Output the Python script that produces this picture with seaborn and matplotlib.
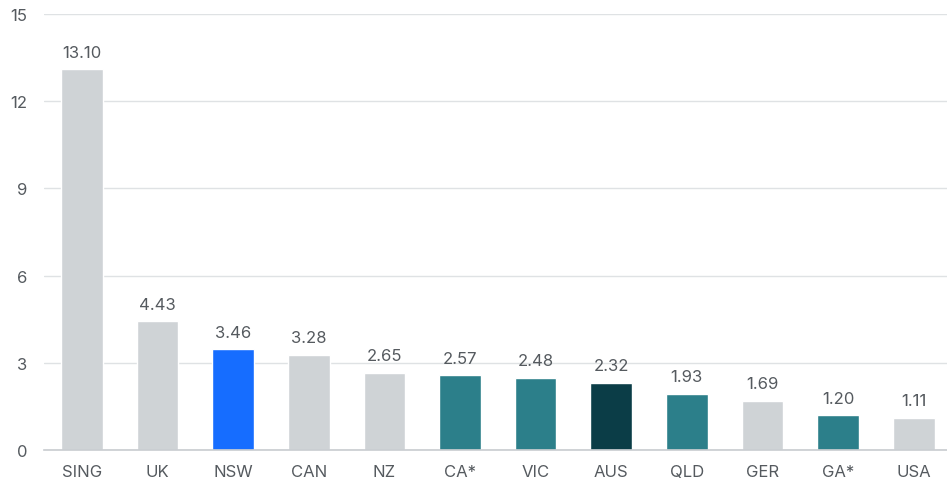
import matplotlib
matplotlib.use("Agg")
import matplotlib.pyplot as plt
import seaborn as sns
import pandas as pd

categories = ["SING", "UK", "NSW", "CAN", "NZ", "CA*", "VIC", "AUS", "QLD", "GER", "GA*", "USA"]
values = [13.10, 4.43, 3.46, 3.28, 2.65, 2.57, 2.48, 2.32, 1.93, 1.69, 1.20, 1.11]
groups = ["other", "other", "nsw", "other", "other", "state", "state", "aus", "state", "other", "state", "other"]
palette = {"other": "#cfd3d6", "nsw": "#166dff", "state": "#2c7f8a", "aus": "#0b3d47"}
yticks = [0, 3, 6, 9, 12, 15]

df = pd.DataFrame({"cat": categories, "val": values, "grp": groups})

sns.set_theme(style="white")
plt.rcParams["font.family"] = ["Inter", "DejaVu Sans"]

fig = plt.figure(figsize=(9.47, 4.85), dpi=100)
ax = fig.add_axes([0.0465, 0.0701, 0.9535, 0.8989])
sns.barplot(data=df, x="cat", y="val", hue="grp", palette=palette, dodge=False,
            width=0.55, legend=False, ax=ax, saturation=1)

for i, v in enumerate(values):
    ax.text(i, v + 0.33, f"{v:.2f}", ha="center", va="bottom", fontsize=12, color="#555a5f")

ax.set_ylim(0, 15)
ax.set_xlim(-0.5, 11.44)
ax.set_yticks(yticks)
ax.set_yticklabels([str(t) for t in yticks])
ax.yaxis.grid(True, color="#dfe2e4", linewidth=1)
ax.set_axisbelow(True)
for s in ["top", "right", "left"]:
    ax.spines[s].set_visible(False)
ax.spines["bottom"].set_color("#c8ccd0")
ax.spines["bottom"].set_linewidth(1.2)
ax.tick_params(axis="both", length=0, labelsize=12, colors="#555a5f")
ax.tick_params(axis="y", pad=12)
ax.tick_params(axis="x", pad=10)
ax.set_xlabel("")
ax.set_ylabel("")

fig.savefig("out.png", dpi=100)
